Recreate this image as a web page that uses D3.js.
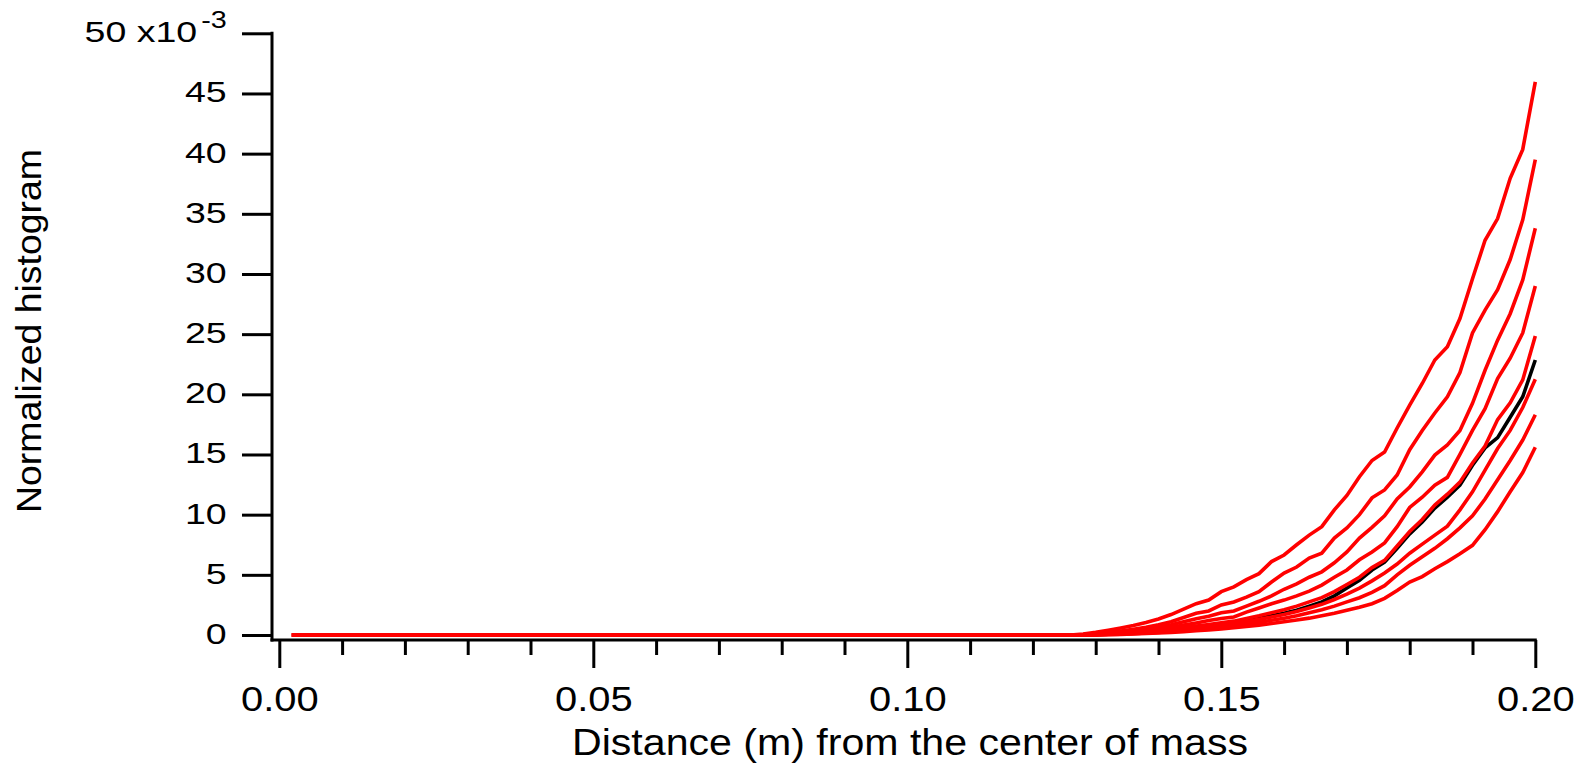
<!DOCTYPE html>
<html>
<head>
<meta charset="utf-8">
<script src="https://cdn.jsdelivr.net/npm/d3@7"></script>
<style>
  html, body { margin: 0; padding: 0; background: #fff; }
  svg { display: block; }
  text { font-family: "Liberation Sans", Arial, Helvetica, sans-serif; fill: #000; }
</style>
</head>
<body>
<svg id="chart" width="1578" height="765"></svg>
<script>
// Bin positions (m). The distribution is flat at zero up to 0.126 m.
const distance = [0.002, 0.126,
  0.128, 0.130, 0.132, 0.134, 0.136, 0.138, 0.140, 0.142, 0.144, 0.146,
  0.148, 0.150, 0.152, 0.154, 0.156, 0.158, 0.160, 0.162, 0.164, 0.166,
  0.168, 0.170, 0.172, 0.174, 0.176, 0.178, 0.180, 0.182, 0.184, 0.186,
  0.188, 0.190, 0.192, 0.194, 0.196, 0.198, 0.200];

// Normalized histogram values, in units of 1e-3
const hist1 = [0, 0, 0.08, 0.22, 0.39, 0.58, 0.79, 1.04, 1.33, 1.7, 2.15, 2.6, 2.9, 3.6, 4.0, 4.6, 5.1, 6.1, 6.65, 7.5, 8.3, 9.0, 10.4, 11.6, 13.15, 14.5, 15.2, 17.2, 19.1, 20.9, 22.85, 23.95, 26.3, 29.6, 32.8, 34.6, 37.95, 40.35, 45.96];
const hist2 = [0, 0, 0.03, 0.1, 0.2, 0.33, 0.48, 0.65, 0.85, 1.1, 1.45, 1.8, 2.0, 2.5, 2.75, 3.15, 3.6, 4.4, 5.15, 5.65, 6.4, 6.8, 8.05, 8.9, 10.0, 11.4, 12.05, 13.3, 15.4, 17.0, 18.45, 19.8, 21.8, 25.1, 27.0, 28.7, 31.2, 34.5, 39.5];
const hist3 = [0, 0, 0.02, 0.08, 0.15, 0.25, 0.37, 0.5, 0.65, 0.85, 1.1, 1.35, 1.55, 1.85, 2.0, 2.4, 2.8, 3.25, 3.8, 4.25, 4.8, 5.25, 6.0, 6.9, 8.05, 8.95, 9.9, 11.3, 12.3, 13.55, 14.95, 15.8, 17.0, 19.25, 22.0, 24.5, 26.7, 29.5, 33.8];
const hist4 = [0, 0, 0.01, 0.05, 0.1, 0.18, 0.27, 0.38, 0.5, 0.65, 0.82, 1.0, 1.2, 1.37, 1.5, 1.9, 2.25, 2.6, 2.9, 3.25, 3.65, 4.15, 4.8, 5.4, 6.25, 6.9, 7.65, 9.0, 10.6, 11.45, 12.45, 13.1, 15.0, 17.0, 18.8, 21.3, 23.0, 25.1, 29.0];
const hist5 = [0, 0, 0.01, 0.04, 0.08, 0.13, 0.2, 0.28, 0.37, 0.48, 0.6, 0.74, 0.88, 1.02, 1.15, 1.38, 1.6, 1.85, 2.1, 2.4, 2.75, 3.1, 3.6, 4.2, 4.8, 5.6, 6.2, 7.4, 8.6, 9.6, 10.8, 11.7, 12.7, 14.3, 15.7, 17.9, 19.3, 21.2, 24.85];
const hist6 = [0, 0, 0.01, 0.03, 0.06, 0.1, 0.15, 0.22, 0.29, 0.38, 0.48, 0.58, 0.7, 0.83, 0.95, 1.12, 1.3, 1.5, 1.7, 1.95, 2.25, 2.55, 2.95, 3.4, 3.9, 4.5, 5.15, 5.9, 6.8, 7.55, 8.3, 9.05, 10.4, 11.9, 13.7, 15.5, 17.0, 18.9, 21.25];
const hist7 = [0, 0, 0, 0.02, 0.04, 0.07, 0.11, 0.16, 0.22, 0.29, 0.37, 0.46, 0.56, 0.66, 0.77, 0.9, 1.05, 1.22, 1.4, 1.6, 1.85, 2.1, 2.4, 2.75, 3.1, 3.55, 4.1, 5.0, 5.8, 6.5, 7.2, 8.0, 8.9, 9.9, 11.3, 12.9, 14.5, 16.2, 18.3];
const hist8 = [0, 0, 0, 0.01, 0.03, 0.05, 0.08, 0.12, 0.16, 0.22, 0.28, 0.35, 0.42, 0.5, 0.6, 0.7, 0.82, 0.95, 1.1, 1.25, 1.4, 1.6, 1.8, 2.05, 2.3, 2.6, 3.05, 3.7, 4.4, 4.85, 5.5, 6.1, 6.75, 7.45, 8.75, 10.25, 11.9, 13.5, 15.6];
// Reference distribution (black trace)
const histRef = [0, 0, 0.01, 0.03, 0.07, 0.12, 0.18, 0.25, 0.33, 0.43, 0.54, 0.65, 0.77, 0.9, 1.04, 1.2, 1.4, 1.6, 1.8, 2.05, 2.4, 2.75, 3.25, 3.9, 4.55, 5.4, 6.05, 7.2, 8.4, 9.4, 10.55, 11.45, 12.45, 14.1, 15.55, 16.4, 18.1, 19.8, 22.85];

const redSeries = [hist1, hist2, hist3, hist4, hist5, hist6, hist7, hist8];

// Axis ticks
const xMajorTicks = [0, 0.05, 0.10, 0.15, 0.20];
const xMinorTicks = [0.01, 0.02, 0.03, 0.04, 0.06, 0.07, 0.08, 0.09, 0.11, 0.12, 0.13, 0.14, 0.16, 0.17, 0.18, 0.19];
const yTicks = [0, 5, 10, 15, 20, 25, 30, 35, 40, 45, 50];
const yExponentLabel = "x10";
const yExponent = "-3";

const svg = d3.select("#chart");
svg.append("rect").attr("width", 1578).attr("height", 765).attr("fill", "#fff");

const x = d3.scaleLinear().domain([0, 0.2]).range([279.3, 1535.3]);
const y = d3.scaleLinear().domain([0, 50]).range([635, 33.3]);
const axisX = 272;   // y axis position
const axisY = 640;   // x axis position
const axisW = 3;

// ---- x axis ----
const gxMinor = svg.append("g").attr("transform", `translate(0,${axisY})`)
  .call(d3.axisBottom(x).tickValues(xMinorTicks).tickSize(15).tickSizeOuter(0).tickFormat(""));
const gxMajor = svg.append("g").attr("transform", `translate(0,${axisY})`)
  .call(d3.axisBottom(x).tickValues(xMajorTicks).tickSize(28).tickSizeOuter(0).tickFormat(d3.format(".2f")));
[gxMinor, gxMajor].forEach(g => {
  g.select(".domain").remove();
  g.selectAll(".tick line").attr("stroke", "#000").attr("stroke-width", axisW);
});
gxMajor.selectAll(".tick text")
  .attr("y", 71.5).attr("dy", null)
  .attr("font-size", 35)
  .attr("transform", "scale(1.14,1)");
svg.append("line")
  .attr("x1", axisX - axisW / 2).attr("x2", x(0.2) + axisW / 2)
  .attr("y1", axisY).attr("y2", axisY)
  .attr("stroke", "#000").attr("stroke-width", axisW);

// ---- y axis ----
const gy = svg.append("g").attr("transform", `translate(${axisX},0)`)
  .call(d3.axisLeft(y).tickValues(yTicks).tickSize(30).tickSizeOuter(0)
    .tickFormat(d => d === 50 ? "" : String(d)));
gy.select(".domain").remove();
gy.selectAll(".tick line").attr("stroke", "#000").attr("stroke-width", axisW);
const ySx = 1.25;
gy.selectAll(".tick text")
  .attr("x", -45.3 / ySx).attr("dy", null).attr("y", 8.5)
  .attr("font-size", 30)
  .attr("text-anchor", "end")
  .attr("transform", `scale(${ySx},1)`);
// top label with the exponent
const topTick = gy.selectAll(".tick").filter(d => d === 50);
const topText = topTick.select("text");
topText.text(null);
topText.append("tspan").text("50 " + yExponentLabel);
topText.append("tspan").attr("font-size", 23).attr("dx", 4 / ySx).attr("dy", -14.4).text(yExponent);

svg.append("line")
  .attr("x1", axisX).attr("x2", axisX)
  .attr("y1", y(50) - axisW / 2).attr("y2", axisY + axisW / 2)
  .attr("stroke", "#000").attr("stroke-width", axisW);

// ---- axis titles ----
svg.append("text")
  .attr("x", 910).attr("y", 755)
  .attr("text-anchor", "middle")
  .attr("font-size", 36)
  .attr("textLength", 676).attr("lengthAdjust", "spacingAndGlyphs")
  .text("Distance (m) from the center of mass");
svg.append("text")
  .attr("transform", "translate(41,331) rotate(-90)")
  .attr("text-anchor", "middle")
  .attr("font-size", 35)
  .attr("textLength", 364).attr("lengthAdjust", "spacingAndGlyphs")
  .text("Normalized histogram");

// ---- traces ----
const line = d3.line().x((d, i) => x(distance[i])).y(d => y(d));
const traces = svg.append("g").attr("fill", "none").attr("stroke-width", 3.6);
traces.append("path").datum(histRef).attr("d", line).attr("stroke", "#000");
traces.selectAll("path.red").data(redSeries).enter().append("path")
  .attr("class", "red").attr("d", line).attr("stroke", "#ff0000");
</script>
</body>
</html>
